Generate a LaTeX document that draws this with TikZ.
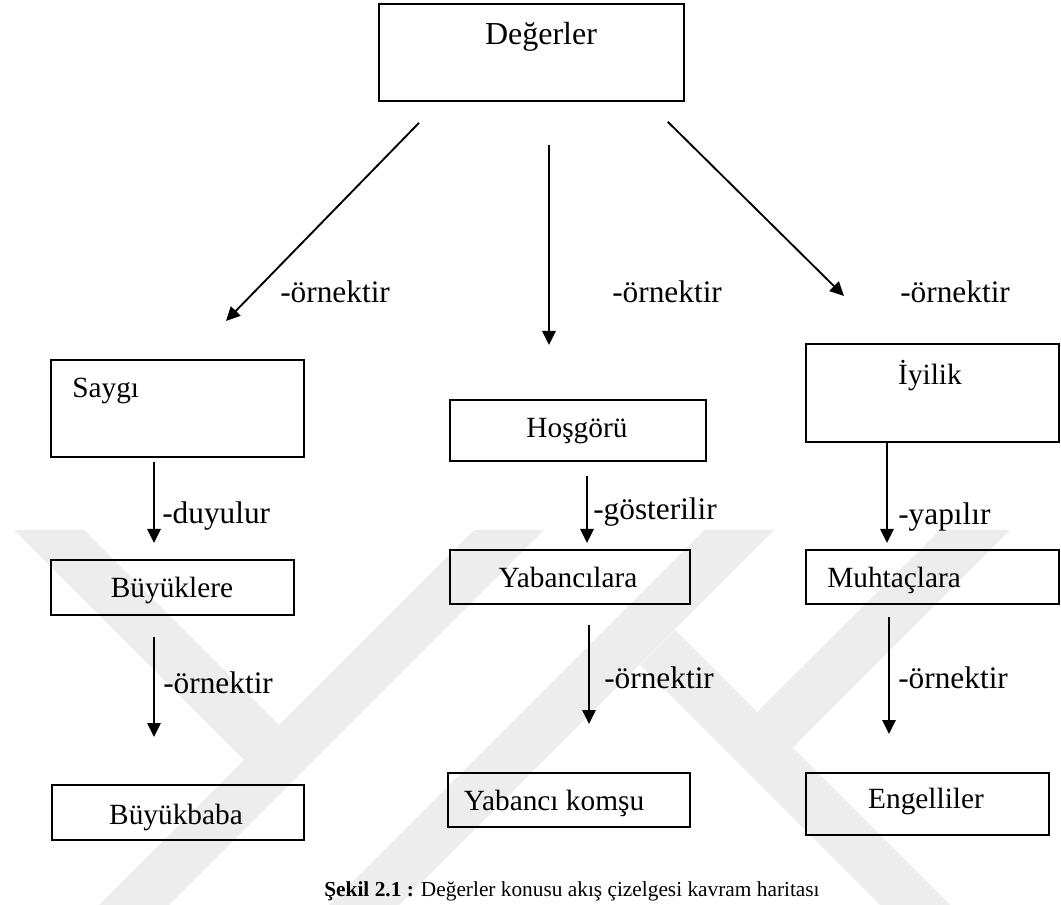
\documentclass[tikz,border=0pt]{standalone}
\usepackage{fontspec}
\setmainfont{Liberation Serif}
\usetikzlibrary{arrows.meta,calc}
\begin{document}
\begin{tikzpicture}[x=0.75pt,y=-0.75pt,
  box/.style={draw,line width=1.4pt,rectangle,inner sep=0pt,anchor=north west},
  lbl/.style={anchor=base west,inner sep=0pt,font=\fontsize{23.5}{26}\selectfont},
  txt/.style={anchor=base,inner sep=0pt,font=\fontsize{22}{26}\selectfont},
  txtl/.style={anchor=base west,inner sep=0pt,font=\fontsize{22}{26}\selectfont},
  arr/.style={line width=1.4pt,-{Triangle[length=10.5pt,width=10pt]}},
  wm/.style={fill=black!7,draw=none}]
\useasboundingbox (0,0) rectangle (1061,905);
% faint watermark
\fill[wm] (14,530) -- (84,530) -- (279,725) -- (244,760) -- cycle;
\fill[wm] (474,530) -- (544,530) -- (169,905) -- (99,905) -- cycle;
\fill[wm] (704,530) -- (774,530) -- (399,905) -- (329,905) -- cycle;
\fill[wm] (640,665) -- (675,630) -- (950,905) -- (880,905) -- cycle;
\fill[wm] (940,530) -- (1010,530) -- (792,748) -- (757,712) -- cycle;
% boxes
\node[box,minimum width=305*0.75pt,minimum height=97*0.75pt] (deger) at (378,3) {};
\node[box,minimum width=253*0.75pt,minimum height=97*0.75pt] (saygi) at (50,359) {};
\node[box,minimum width=243*0.75pt,minimum height=55*0.75pt] (buyuk) at (50,559) {};
\node[box,minimum width=252*0.75pt,minimum height=55*0.75pt] (baba) at (51,784) {};
\node[box,minimum width=256*0.75pt,minimum height=61*0.75pt] (hosg) at (449,399) {};
\node[box,minimum width=240*0.75pt,minimum height=54*0.75pt] (yaban) at (449,549) {};
\node[box,minimum width=242*0.75pt,minimum height=54*0.75pt] (komsu) at (447,772) {};
\node[box,minimum width=253*0.75pt,minimum height=98*0.75pt] (iyilik) at (805,343) {};
\node[box,minimum width=253*0.75pt,minimum height=54*0.75pt] (muhtac) at (805,549) {};
\node[box,minimum width=243*0.75pt,minimum height=62*0.75pt] (engel) at (805,772) {};
% box texts
\node[txt,font=\fontsize{24}{28}\selectfont] (tdeger) at (541,45) {Değerler};
\node[txtl] (tsaygi) at (72,398) {Saygı};
\node[txt] (tbuyuk) at (172,598) {Büyüklere};
\node[txt] (tbaba) at (176,824) {Büyükbaba};
\node[txt] (thosg) at (577,438) {Hoşgörü};
\node[txt] (tyaban) at (568,588) {Yabancılara};
\node[txt] (tkomsu) at (554,810) {Yabancı komşu};
\node[txt] (tiyilik) at (930,385) {İyilik};
\node[txtl] (tmuhtac) at (827,588) {Muhtaçlara};
\node[txt] (tengel) at (926,808) {Engelliler};
% arrows
\draw[arr] ($(deger.south west)+(41,21)$) -- ($(saygi.north west)+(176,-38)$);
\draw[arr] ($(deger.south west)+(171,43)$) -- ($(hosg.north west)+(100,-54)$);
\draw[arr] ($(deger.south east)+(-17,20)$) -- ($(iyilik.north west)+(39,-47)$);
\draw[arr] ($(saygi.south west)+(104,4)$) -- ($(buyuk.north west)+(104,-16)$);
\draw[arr] ($(buyuk.south west)+(104,21)$) -- ($(baba.north west)+(103,-47)$);
\draw[arr] ($(hosg.south west)+(138,14)$) -- ($(yaban.north west)+(138,-6)$);
\draw[arr] ($(yaban.south west)+(140,20)$) -- ($(komsu.north west)+(142,-48)$);
\draw[arr] ($(iyilik.south west)+(82,0)$) -- ($(muhtac.north west)+(82,-6)$);
\draw[arr] ($(muhtac.south west)+(84,12)$) -- ($(engel.north west)+(84,-38)$);
% connector labels
\node[lbl] (l1) at (280,303) {-örnektir};
\node[lbl] (l2) at (612,303) {-örnektir};
\node[lbl] (l3) at (900,303) {-örnektir};
\node[lbl] (l4) at (162,524) {-duyulur};
\node[lbl] (l5) at (163,693) {-örnektir};
\node[lbl] (l6) at (593,520) {-gösterilir};
\node[lbl] (l7) at (604,688) {-örnektir};
\node[lbl] (l8) at (898,525) {-yapılır};
\node[lbl] (l9) at (898,688) {-örnektir};
% caption
\node[anchor=base,inner sep=0pt,font=\fontsize{16}{18}\selectfont] (cap) at (572,896)
  {\textbf{Şekil 2.1 :} Değerler konusu akış çizelgesi kavram haritası};
\end{tikzpicture}
\end{document}
